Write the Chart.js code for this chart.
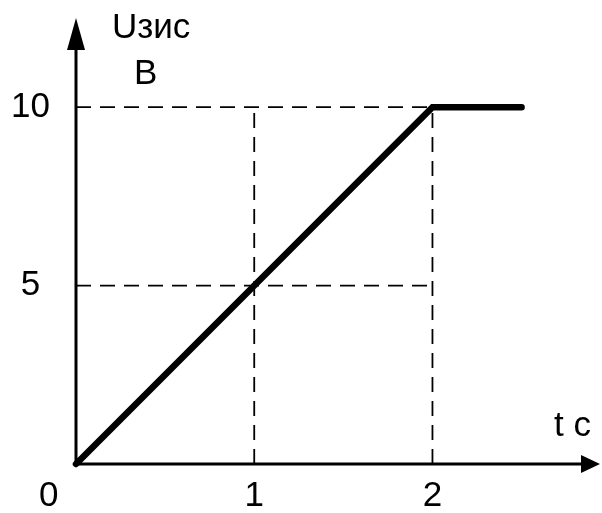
<!DOCTYPE html>
<html>
<head>
<meta charset="utf-8">
<script src="https://cdn.jsdelivr.net/npm/chart.js@4.4.1/dist/chart.umd.min.js"></script>
<style>
  html, body { margin: 0; padding: 0; background: #fff; }
  #wrap { width: 602px; height: 513px; }
</style>
</head>
<body>
<div id="wrap"><canvas id="chart" width="602" height="513"></canvas></div>
<script>
// DATA
let tValues = [0, 2, 2.5];       // t, c
let uValues = [0, 10, 10];       // Uзис, B
let xTickValues = [1, 2];
let yTickValues = [5, 10];
let guideT = [1, 2];             // vertical dashed lines
let guideU = [5, 10];            // horizontal dashed lines
let yAxisTitle = ['Uзис', 'B'];
let xAxisTitle = 't c';
let originLabel = '0';

let fontFamily = "'Liberation Sans', Arial, sans-serif";
let fontSize = 35;

let mainPoints = tValues.map((t, i) => ({ x: t, y: uValues[i] }));
let uTop = Math.max(...uValues);
let tRight = tValues[1];

let guideSets = [];
guideT.forEach(t => guideSets.push([{ x: t, y: 0 }, { x: t, y: uTop }]));
guideU.forEach(u => guideSets.push([{ x: 0, y: u }, { x: tRight, y: u }]));

let datasets = guideSets.map(pts => ({
    data: pts,
    borderColor: '#000',
    borderWidth: 1.8,
    borderDash: [15, 9],
    pointRadius: 0,
    clip: false
}));
datasets.push({
    data: mainPoints,
    borderColor: '#000',
    borderWidth: 6.5,
    borderCapStyle: 'round',
    borderJoinStyle: 'miter',
    pointRadius: 0,
    clip: false
});

// axes with arrows + free labels
let arrowAxes = {
    id: 'arrowAxes',
    beforeDatasetsDraw(chart) {
        let ctx = chart.ctx;
        let xs = chart.scales.x, ys = chart.scales.y;
        let ox = xs.getPixelForValue(0), oy = ys.getPixelForValue(0);
        let xEnd = xs.getPixelForValue(xs.max);
        let yEnd = ys.getPixelForValue(ys.max);
        ctx.save();
        ctx.strokeStyle = '#000';
        ctx.fillStyle = '#000';
        ctx.lineWidth = 3;
        ctx.beginPath();
        ctx.moveTo(ox, oy);
        ctx.lineTo(xEnd - 15, oy);
        ctx.moveTo(ox, oy);
        ctx.lineTo(ox, yEnd + 15);
        ctx.stroke();
        // x arrow
        ctx.beginPath();
        ctx.moveTo(xEnd, oy);
        ctx.lineTo(xEnd - 19, oy - 9);
        ctx.lineTo(xEnd - 19, oy + 9);
        ctx.closePath();
        ctx.fill();
        // y arrow
        ctx.beginPath();
        ctx.moveTo(ox, yEnd);
        ctx.lineTo(ox - 9, yEnd + 32);
        ctx.lineTo(ox + 9, yEnd + 32);
        ctx.closePath();
        ctx.fill();
        ctx.restore();
    },
    afterDraw(chart) {
        let ctx = chart.ctx;
        let xs = chart.scales.x, ys = chart.scales.y;
        let ox = xs.getPixelForValue(0), oy = ys.getPixelForValue(0);
        ctx.save();
        ctx.fillStyle = '#000';
        ctx.font = fontSize + 'px ' + fontFamily;
        ctx.textBaseline = 'alphabetic';
        ctx.textAlign = 'left';
        ctx.fillText(yAxisTitle[0], ox + 36, 38);
        ctx.fillText(yAxisTitle[1], ox + 58, 84);
        ctx.fillText(xAxisTitle, 554, oy - 28);
        ctx.fillText(originLabel, ox - 37, oy + 42);
        ctx.restore();
    }
};

let chartCtx = document.getElementById('chart').getContext('2d');
let chart = new Chart(chartCtx, {
    type: 'line',
    data: { datasets: datasets },
    options: {
        responsive: false,
        animation: false,
        layout: { padding: { top: 18, right: 2, left: 0, bottom: 0 } },
        plugins: { legend: { display: false }, tooltip: { enabled: false } },
        scales: {
            x: {
                type: 'linear',
                min: 0,
                max: 2.94,
                grid: { display: false, drawTicks: false },
                border: { display: false },
                afterFit: s => { s.height = 49; s.paddingLeft = 0; s.paddingRight = 0; },
                afterBuildTicks: s => { s.ticks = xTickValues.map(v => ({ value: v })); },
                ticks: {
                    color: '#000',
                    padding: 11,
                    maxRotation: 0,
                    font: { size: fontSize, family: fontFamily }
                }
            },
            y: {
                type: 'linear',
                min: 0,
                max: 12.5,
                grid: { display: false, drawTicks: false },
                border: { display: false },
                afterFit: s => { s.width = 76; s.paddingTop = 0; s.paddingBottom = 0; },
                afterBuildTicks: s => { s.ticks = yTickValues.map(v => ({ value: v })); },
                ticks: {
                    color: '#000',
                    padding: 26,
                    crossAlign: 'center',
                    font: { size: fontSize, family: fontFamily }
                }
            }
        }
    },
    plugins: [arrowAxes]
});
</script>
</body>
</html>
